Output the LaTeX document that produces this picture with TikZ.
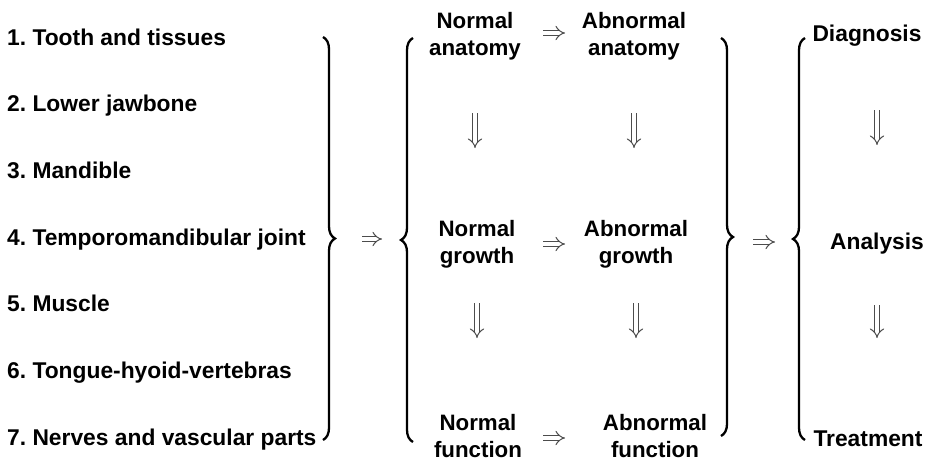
\documentclass[tikz,border=0pt]{standalone}
\usepackage{fontspec}
\setmainfont{Liberation Sans}
\usetikzlibrary{arrows.meta, decorations.pathreplacing, calc}

\begin{document}
\frenchspacing
\begin{tikzpicture}[x=1pt, y=-1pt,
    item/.style={anchor=base west, inner sep=0pt, font=\bfseries\fontsize{22.8}{27}\selectfont},
    stage/.style={align=center, inner sep=0pt, font=\bfseries\fontsize{22.3}{27}\selectfont},
    clinic/.style={stage, font=\bfseries\fontsize{22.8}{27}\selectfont},
    bracepath/.style={line width=2.3pt, decorate, decoration={brace, amplitude=12pt}},
    dimp/.style={draw=black!70, double=white, double distance=4pt, line width=1pt, -{Implies}}]
    \useasboundingbox (0,0) rectangle (926,461);

    % Anatomical parts
    \node[item] (tooth)  at (7,45)  {1. Tooth and tissues};
    \node[item] (jaw)    at (7,111) {2. Lower jawbone};
    \node[item] (mand)   at (7,178) {3. Mandible};
    \node[item] (tmj)    at (7,245) {4. Temporomandibular joint};
    \node[item] (muscle) at (7,311) {5. Muscle};
    \node[item] (tongue) at (7,378) {6. Tongue-hyoid-vertebras};
    \node[item] (nerves) at (7,445) {7. Nerves and vascular parts};

    % Normal / abnormal stages
    \node[stage] (normanat) at (475,36)  {Normal\\anatomy};
    \node[stage] (abnanat)  at (634,36)  {Abnormal\\anatomy};
    \node[stage] (normgrow) at (477,244) {Normal\\growth};
    \node[stage] (abngrow)  at (636,244) {Abnormal\\growth};
    \node[stage] (normfunc) at (478,436) {Normal\\function};
    \node[stage] (abnfunc)  at (655,436) {Abnormal\\function};

    % Clinical steps
    \node[clinic] (diag)  at (867,36)  {Diagnosis};
    \node[clinic] (anal)  at (877,244) {Analysis};
    \node[clinic] (treat) at (868,439) {Treatment};

    % Braces
    \draw[bracepath] (323,37) -- (323,440);
    \draw[bracepath] (413,442) -- (413,38);
    \draw[bracepath] (721,38) -- (721,436);
    \draw[bracepath] (805,440) -- (805,38);
    \coordinate (tipA) at (335,239);
    \coordinate (tipB) at (401,239);
    \coordinate (tipC) at (733,242);
    \coordinate (tipD) at (793,242);

    % Arrows between braces
    \draw[dimp, shorten <=27pt, shorten >=19pt] (tipA) -- (tipB);
    \draw[dimp, shorten <=20pt, shorten >=18pt] (tipC) -- (tipD);

    % Arrows along the rows
    \draw[dimp, shorten <=68pt, shorten >=69pt] (normanat.center) ++(0,-3) -- (abnanat.center |- 0,33);
    \draw[dimp, shorten <=66pt, shorten >=71pt] (normgrow.center) -- (abngrow.center);
    \draw[dimp, shorten <=65pt, shorten >=90pt] (normfunc.center) ++(0,2) -- (abnfunc.center |- 0,438);

    % Arrows down the columns
    \draw[dimp, shorten <=77pt, shorten >=96pt] (normanat.center) -- (normanat.center |- normgrow.center);
    \draw[dimp, shorten <=59pt, shorten >=98pt] (normgrow.center) -- (normgrow.center |- normfunc.center);
    \draw[dimp, shorten <=77pt, shorten >=96pt] (abnanat.center) -- (abnanat.center |- abngrow.center);
    \draw[dimp, shorten <=59pt, shorten >=98pt] (abngrow.center) -- (abngrow.center |- abnfunc.center);
    \draw[dimp, shorten <=74pt, shorten >=99pt] (diag.center -| anal.center) -- (anal.center);
    \draw[dimp, shorten <=61pt, shorten >=101pt] (anal.center) -- (anal.center |- treat.center);
\end{tikzpicture}
\end{document}
